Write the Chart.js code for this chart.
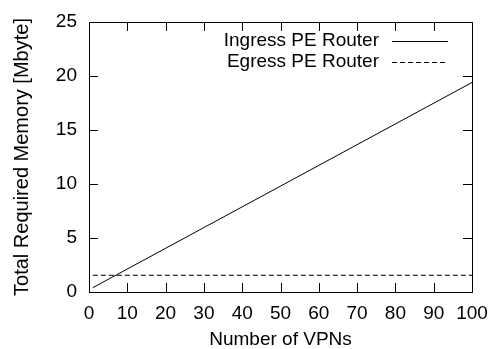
<!DOCTYPE html>
<html>
<head>
<meta charset="utf-8">
<script src="https://cdn.jsdelivr.net/npm/chart.js@4.4.1/dist/chart.umd.min.js"></script>
<style>
  html, body { margin: 0; padding: 0; background: #fff; }
  #wrap { width: 493px; height: 349px; }
</style>
</head>
<body>
<div id="wrap"><canvas id="memory-chart"></canvas></div>
<script>
// number of VPNs vs. memory needed on the PE routers
const ingressVpns = [1, 100];
const ingressMemory = [0.4, 19.4];
const egressVpns = [1, 100];
const egressMemory = [1.55, 1.55];

const seriesNames = ['Ingress PE Router', 'Egress PE Router'];

const FONT = 'Liberation Sans, Arial, Helvetica, sans-serif';
const TICK = 9;

function toPoints(xs, ys) {
    return xs.map((x, i) => ({ x: x, y: ys[i] }));
}

// gnuplot style box: border on all four sides, ticks pointing inwards
const frame = {
    id: 'frame',
    afterDatasetsDraw(chart) {
        const ctx = chart.ctx;
        const a = chart.chartArea;
        const xs = chart.scales.x;
        const ys = chart.scales.y;
        ctx.save();
        ctx.strokeStyle = '#000';
        ctx.lineWidth = 1;
        ctx.setLineDash([]);
        ctx.beginPath();
        xs.ticks.forEach(t => {
            const px = Math.round(xs.getPixelForValue(t.value)) + 0.5;
            ctx.moveTo(px, a.bottom); ctx.lineTo(px, a.bottom - TICK);
            ctx.moveTo(px, a.top); ctx.lineTo(px, a.top + TICK);
        });
        ys.ticks.forEach(t => {
            const py = Math.round(ys.getPixelForValue(t.value)) + 0.5;
            ctx.moveTo(a.left, py); ctx.lineTo(a.left + TICK, py);
            ctx.moveTo(a.right, py); ctx.lineTo(a.right - TICK, py);
        });
        ctx.stroke();
        ctx.strokeRect(Math.round(a.left) + 0.5, Math.round(a.top) + 0.5,
            Math.round(a.right - a.left), Math.round(a.bottom - a.top));

        // key in the upper right corner: text first, line sample after it
        ctx.font = '19px ' + FONT;
        ctx.fillStyle = '#000';
        ctx.textAlign = 'right';
        ctx.textBaseline = 'middle';
        chart.data.datasets.forEach((ds, i) => {
            const y = a.top + 19 + i * 21;
            ctx.fillText(ds.label, a.right - 93, y);
            ctx.setLineDash(ds.borderDash || []);
            ctx.beginPath();
            ctx.moveTo(a.right - 80, Math.round(y) + 0.5);
            ctx.lineTo(a.right - 24, Math.round(y) + 0.5);
            ctx.stroke();
        });
        ctx.restore();
    }
};

new Chart(document.getElementById('memory-chart'), {
    type: 'line',
    data: {
        datasets: [{
            label: seriesNames[0],
            data: toPoints(ingressVpns, ingressMemory),
            borderColor: '#000',
            borderWidth: 1,
            pointRadius: 0,
            tension: 0
        }, {
            label: seriesNames[1],
            data: toPoints(egressVpns, egressMemory),
            borderColor: '#000',
            borderWidth: 1,
            borderDash: [5, 3],
            pointRadius: 0,
            tension: 0
        }]
    },
    options: {
        responsive: true,
        maintainAspectRatio: false,
        animation: false,
        layout: { padding: { top: 22, right: 21, left: 0, bottom: 0 } },
        plugins: {
            legend: { display: false },
            tooltip: { enabled: false }
        },
        scales: {
            x: {
                type: 'linear',
                min: 0,
                max: 100,
                grid: { display: false, drawTicks: false },
                border: { display: false },
                ticks: {
                    stepSize: 10,
                    color: '#000',
                    padding: 10,
                    maxRotation: 0,
                    font: { family: FONT, size: 19 }
                },
                title: {
                    display: true,
                    text: 'Number of VPNs',
                    color: '#000',
                    padding: 0,
                    font: { family: FONT, size: 19, lineHeight: 1 }
                },
                afterFit(scale) {
                    scale.height = 57;
                    // the "100" label may hang past the frame, as in gnuplot
                    scale.paddingLeft = 0;
                    scale.paddingRight = 0;
                }
            },
            y: {
                min: 0,
                max: 25,
                grid: { display: false, drawTicks: false },
                border: { display: false },
                ticks: {
                    stepSize: 5,
                    color: '#000',
                    padding: 12,
                    font: { family: FONT, size: 19 }
                },
                title: {
                    display: true,
                    text: 'Total Required Memory [Mbyte]',
                    color: '#000',
                    padding: 12,
                    font: { family: FONT, size: 20, lineHeight: 1 }
                },
                afterFit(scale) {
                    scale.width = 89;
                    scale.paddingTop = 0;
                    scale.paddingBottom = 0;
                }
            }
        }
    },
    plugins: [frame]
});
</script>
</body>
</html>
